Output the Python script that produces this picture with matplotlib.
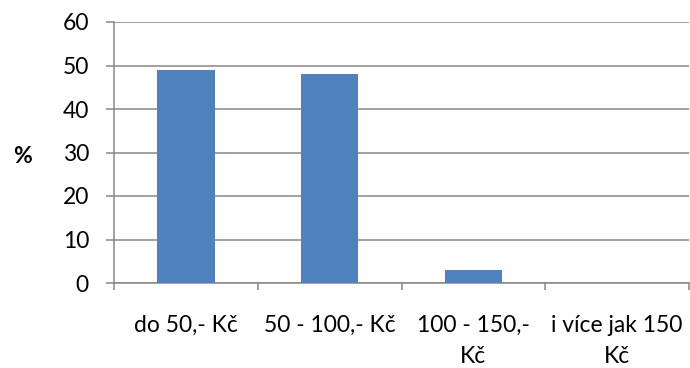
import matplotlib
matplotlib.use("Agg")
import matplotlib.pyplot as plt
from matplotlib.ticker import FixedLocator

plt.rcParams['font.family'] = ['Lato', 'DejaVu Sans']

categories = ["do 50,- Kč", "50 - 100,- Kč", "100 - 150,-\nKč", "i více jak 150\nKč"]
values = [49, 48, 3, 0]
y_ticks = [0, 10, 20, 30, 40, 50, 60]

bar_color = "#4F81BD"
grid_color = "#878787"
font_size = 16.5

fig = plt.figure(figsize=(6.9, 3.68), dpi=100)
ax = fig.add_axes([114 / 690, 1 - 283 / 368, (689 - 114) / 690, (283 - 22) / 368])

x = list(range(len(categories)))
ax.bar(x, values, width=0.4, color=bar_color, zorder=3)

ax.set_xlim(-0.5, len(categories) - 0.5)
ax.set_ylim(0, 60)

ax.set_yticks(y_ticks)
ax.yaxis.grid(True, color=grid_color, linewidth=1.1, zorder=0)
ax.tick_params(axis='y', length=6, width=1.1, color=grid_color, pad=12, labelsize=font_size)

# category boundaries carry the tick marks, labels sit at the centres
ax.xaxis.set_major_locator(FixedLocator([i - 0.5 for i in range(len(categories) + 1)]))
ax.xaxis.set_minor_locator(FixedLocator(x))
ax.set_xticklabels([], minor=False)
ax.set_xticklabels(categories, minor=True, linespacing=1.6)
ax.tick_params(axis='x', which='major', length=5, width=1.1, color=grid_color)
ax.tick_params(axis='x', which='minor', length=0, pad=23, labelsize=font_size)

for side in ('top', 'right'):
    ax.spines[side].set_visible(False)
for side in ('left', 'bottom'):
    ax.spines[side].set_color(grid_color)
    ax.spines[side].set_linewidth(1.1)

fig.text(22 / 690, 1 - 157 / 368, "%", fontsize=font_size, fontweight='bold', ha='center', va='center')

fig.savefig("out.png", dpi=100, facecolor='white')
